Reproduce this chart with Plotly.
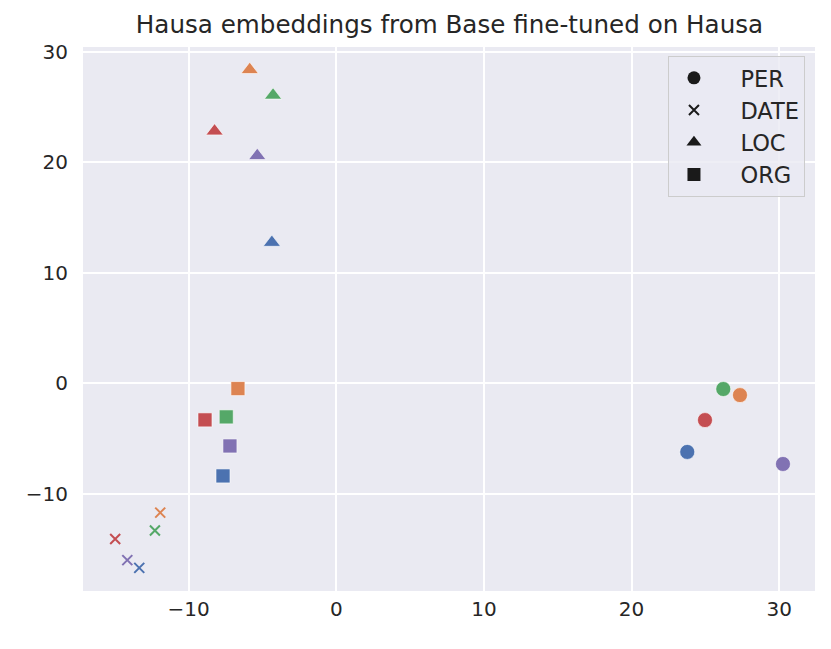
import plotly.graph_objects as go

# point colours, one per entity (seaborn "deep")
COLORS = ["#4C72B0", "#DD8452", "#55A868", "#C44E52", "#8172B3"]

PER_X = [23.77, 27.34, 26.21, 24.97, 30.25]
PER_Y = [-6.20, -1.06, -0.51, -3.32, -7.29]

DATE_X = [-13.34, -11.92, -12.28, -14.97, -14.15]
DATE_Y = [-16.69, -11.69, -13.30, -14.07, -15.99]

LOC_X = [-4.36, -5.86, -4.28, -8.24, -5.35]
LOC_Y = [12.74, 28.37, 26.06, 22.82, 20.59]

ORG_X = [-7.67, -6.66, -7.45, -8.89, -7.20]
ORG_Y = [-8.37, -0.47, -3.03, -3.30, -5.66]

LABELS = ["PER", "DATE", "LOC", "ORG"]
X_TICKS = [-10, 0, 10, 20, 30]
Y_TICKS = [-10, 0, 10, 20, 30]

FONT = "DejaVu Sans"
TEXT = "#262626"
NB = "\u00a0"

series = [
    (LABELS[0], PER_X, PER_Y, "circle", 15),
    (LABELS[1], DATE_X, DATE_Y, "x-thin-open", 10),
    (LABELS[2], LOC_X, LOC_Y, "triangle-up", 15),
    (LABELS[3], ORG_X, ORG_Y, "square", 14),
]

fig = go.Figure()

for name, xs, ys, sym, size in series:
    if sym == "x-thin-open":
        marker = dict(symbol=sym, size=size, color=COLORS,
                      line=dict(color=COLORS, width=2))
    else:
        marker = dict(symbol=sym, size=size, color=COLORS,
                      line=dict(color="white", width=0.6))
    fig.add_trace(go.Scatter(x=xs, y=ys, mode="markers", marker=marker,
                             showlegend=False, hoverinfo="x+y"))

# legend entries in black
for i, (name, xs, ys, sym, size) in enumerate(series):
    if sym == "x-thin-open":
        marker = dict(symbol=sym, size=10, color="#1a1a1a",
                      line=dict(color="#1a1a1a", width=2))
    else:
        marker = dict(symbol=sym, size=13, color="#1a1a1a")
    fig.add_trace(go.Scatter(x=[None], y=[None], mode="markers",
                             name=NB * 3 + name,
                             marker=marker, legendgroup=f"g{i}"))

fig.update_layout(
    width=823, height=641,
    title=dict(text="Hausa embeddings from Base fine-tuned on Hausa",
               x=(449.5 - 8) / 823, xanchor="center",
               y=1 - 16 / 641, yanchor="middle",
               font=dict(family=FONT, size=24.6, color=TEXT)),
    font=dict(family=FONT, size=20, color=TEXT),
    paper_bgcolor="white",
    plot_bgcolor="#EAEAF2",
    margin=dict(l=75, r=16, t=39, b=58),
    legend=dict(x=0.9863, xanchor="right", y=0.984, yanchor="top",
                bgcolor="rgba(234,234,242,0.8)", bordercolor="#CCCCCC",
                borderwidth=1, font=dict(family=FONT, size=22.5, color=TEXT),
                traceorder="grouped", tracegroupgap=0, itemwidth=40),
    showlegend=True,
)

fig.update_xaxes(range=[-17.15, 32.42], tickvals=X_TICKS,
                 ticktext=[f"{v}".replace("-", "\u2212") for v in X_TICKS],
                 showgrid=True, gridcolor="white", gridwidth=1.6,
                 zeroline=False, showline=False, ticks="",
                 ticklabelstandoff=4)
fig.update_yaxes(range=[-18.78, 30.43], tickvals=Y_TICKS,
                 ticktext=[f"{v}".replace("-", "\u2212") for v in Y_TICKS],
                 showgrid=True, gridcolor="white", gridwidth=1.6,
                 zeroline=False, showline=False, ticks="",
                 ticklabelstandoff=14)

fig.write_html("out.html")
